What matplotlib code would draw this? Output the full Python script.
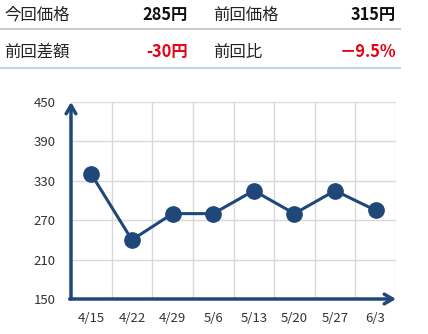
import matplotlib
matplotlib.use("Agg")
import matplotlib.pyplot as plt
from matplotlib.lines import Line2D

plt.rcParams['font.family'] = ['Noto Sans CJK JP', 'DejaVu Sans']

# Data
dates = ["4/15", "4/22", "4/29", "5/6", "5/13", "5/20", "5/27", "6/3"]
prices = [340, 240, 280, 280, 315, 280, 315, 285]
y_ticks = [150, 210, 270, 330, 390, 450]

header_labels = ["今回価格", "前回価格", "前回差額", "前回比"]
header_values = ["285円", "315円", "-30円", "－9.5%"]
header_colors = ["#111111", "#111111", "#e60012", "#e60012"]

navy = "#1f477a"
W, H = 428, 334

fig = plt.figure(figsize=(W / 100, H / 100), dpi=100)


def fx(px):
    return px / W


def fy(py):
    return 1 - py / H


# Header table
label_pos = [(4, 15), (213, 15), (4, 52), (213, 52)]
value_pos = [(188, 15), (396, 15), (188, 52), (396, 52)]
for i in range(4):
    fig.text(fx(label_pos[i][0]), fy(label_pos[i][1]), header_labels[i],
             fontsize=11.8, color="#222222", ha="left", va="center")
    fig.text(fx(value_pos[i][0]), fy(value_pos[i][1]), header_values[i],
             fontsize=11.8, color=header_colors[i], fontweight="bold",
             ha="right", va="center")

fig.add_artist(Line2D([0, fx(400)], [fy(28.5), fy(28.5)], color="#cccccc",
                      lw=1.5, transform=fig.transFigure))
fig.add_artist(Line2D([0, fx(400)], [fy(68), fy(68)], color="#bcd4ee",
                      lw=1.5, transform=fig.transFigure))

# Chart area
ax = fig.add_axes([fx(71), fy(299), fx(396) - fx(71), fy(102) - fy(299)])
xs = [i + 0.5 for i in range(len(dates))]
ax.plot(xs, prices, color=navy, lw=2.2, marker="o", markersize=11,
        zorder=3, clip_on=False)

ax.set_xlim(0, len(dates))
ax.set_ylim(150, 450)
ax.set_yticks(y_ticks)
ax.set_xticks(xs)
ax.set_xticklabels(dates)
ax.set_xticks(range(1, len(dates) + 1), minor=True)

ax.grid(axis="y", which="major", color="#d9d9d9", lw=1)
ax.grid(axis="x", which="minor", color="#d9d9d9", lw=1)
ax.set_axisbelow(True)
for s in ax.spines.values():
    s.set_visible(False)
ax.tick_params(axis="both", which="both", length=0, labelsize=9.5,
               labelcolor="#333333")
ax.tick_params(axis="x", pad=9)
ax.tick_params(axis="y", pad=11)

# Axis arrows
ax.annotate("", xy=(0, 1.0), xytext=(0, 0), xycoords="axes fraction",
            arrowprops=dict(arrowstyle="->,head_length=0.6,head_width=0.35",
                            color=navy, lw=2.5, shrinkA=0, shrinkB=0),
            annotation_clip=False)
ax.annotate("", xy=(1.0, 0), xytext=(-0.004, 0), xycoords="axes fraction",
            arrowprops=dict(arrowstyle="->,head_length=0.6,head_width=0.35",
                            color=navy, lw=2.5, shrinkA=0, shrinkB=0),
            annotation_clip=False)

fig.savefig("out.png", dpi=100)
